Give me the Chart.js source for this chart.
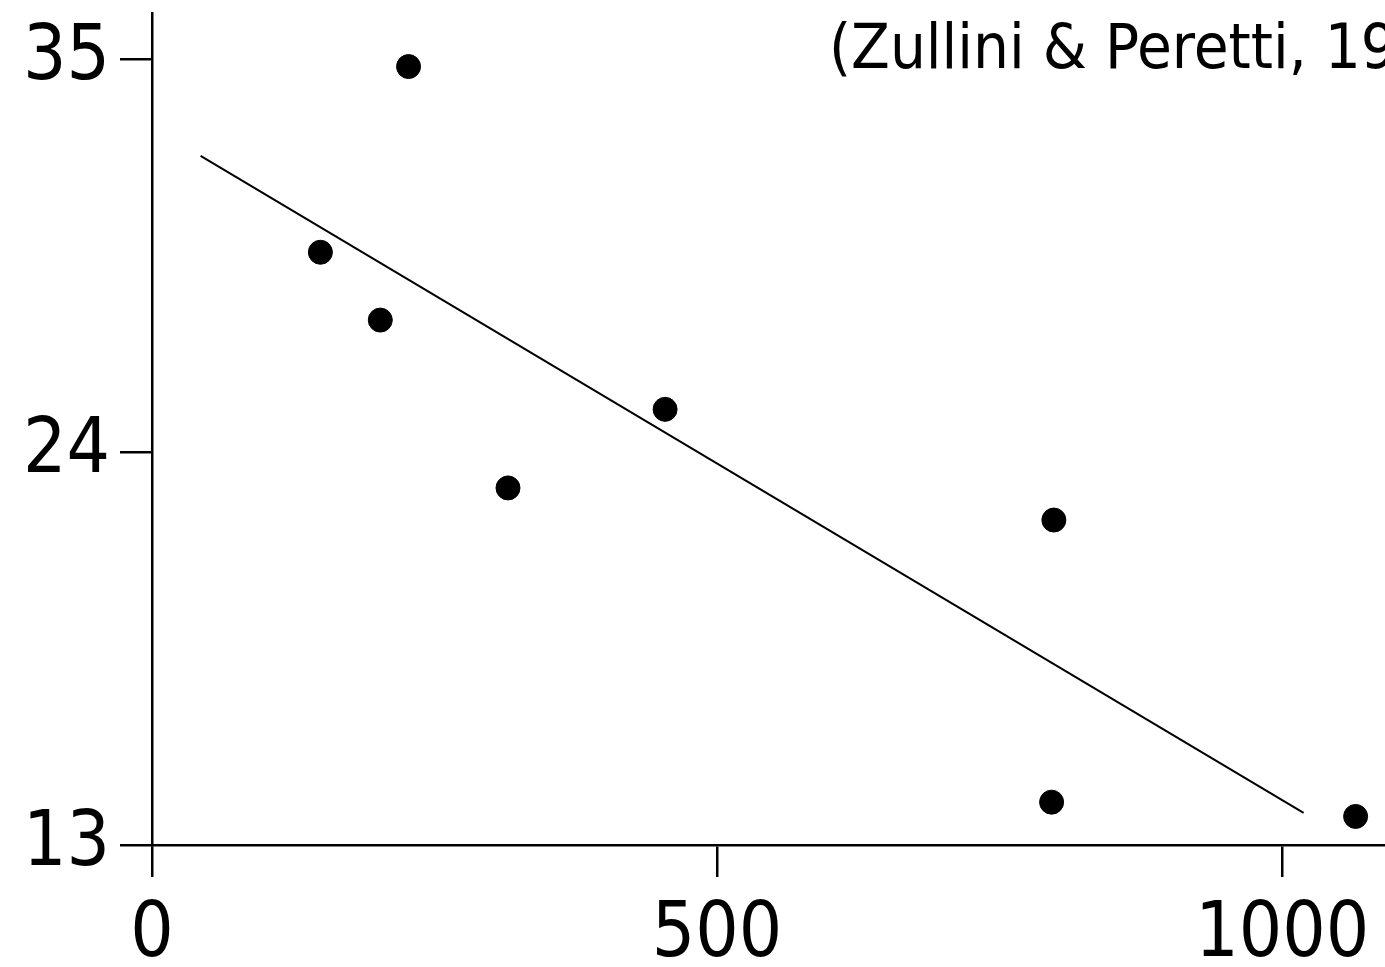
<!DOCTYPE html>
<html>
<head>
<meta charset="utf-8">
<script src="https://cdn.jsdelivr.net/npm/chart.js@4"></script>
<style>
  html, body { margin: 0; padding: 0; background: #fff; }
  #wrap { width: 1385px; height: 967px; }
</style>
</head>
<body>
<div id="wrap"><canvas id="scatterChart"></canvas></div>
<script>
const sourceNote = '(Zullini & Peretti, 19';

const pointX = [227, 149, 202, 454, 315, 798, 796, 1065];
const pointY = [34.8, 29.6, 27.7, 25.2, 23.0, 22.1, 14.2, 13.8];

const trendX = [43, 1019];
const trendY = [32.3, 13.9];

const xTicks = [0, 500, 1000];
const yTicks = [13, 24, 35];

const fontFamily = "'DejaVu Sans Condensed', 'DejaVu Sans', sans-serif";

// source note in the top right, cut by the right edge like the original
const notePlugin = {
    id: 'note',
    afterDraw(chart) {
        const c = chart.ctx;
        c.save();
        c.fillStyle = '#000';
        c.font = '63px ' + fontFamily;
        c.textBaseline = 'alphabetic';
        c.textAlign = 'left';
        c.fillText(sourceNote, 829, 68);
        c.restore();
    }
};

const ctx = document.getElementById('scatterChart').getContext('2d');

new Chart(ctx, {
    type: 'scatter',
    data: {
        datasets: [{
            data: pointX.map((x, i) => ({ x: x, y: pointY[i] })),
            backgroundColor: '#000',
            borderColor: '#000',
            pointRadius: 12,
            pointHoverRadius: 12,
            clip: false
        }, {
            type: 'line',
            data: trendX.map((x, i) => ({ x: x, y: trendY[i] })),
            borderColor: '#000',
            borderWidth: 2,
            pointRadius: 0,
            fill: false
        }]
    },
    options: {
        responsive: true,
        maintainAspectRatio: false,
        animation: false,
        layout: { autoPadding: false, padding: { top: 13, right: 0, left: 0, bottom: 0 } },
        plugins: {
            legend: { display: false },
            tooltip: { enabled: false }
        },
        scales: {
            x: {
                type: 'linear',
                min: 0,
                max: 1091,
                afterBuildTicks: (scale) => { scale.ticks = xTicks.map(v => ({ value: v })); },
                afterFit: (scale) => {
                    scale.height = 122;
                    scale.paddingLeft = 0;
                    scale.paddingRight = 0;
                },
                grid: { drawOnChartArea: false, tickLength: 32, color: '#000', lineWidth: 2.5 },
                border: { display: true, color: '#000', width: 2.5 },
                ticks: {
                    color: '#000',
                    padding: 14,
                    maxRotation: 0,
                    callback: (v) => String(v),
                    font: { family: fontFamily, size: 76 }
                }
            },
            y: {
                type: 'linear',
                min: 13,
                max: 36.3,
                afterBuildTicks: (scale) => { scale.ticks = yTicks.map(v => ({ value: v })); },
                afterFit: (scale) => {
                    scale.width = 152;
                    scale.paddingTop = 0;
                    scale.paddingBottom = 0;
                },
                grid: { drawOnChartArea: false, tickLength: 32, color: '#000', lineWidth: 2.5 },
                border: { display: true, color: '#000', width: 2.5 },
                ticks: {
                    color: '#000',
                    padding: 10,
                    callback: (v) => String(v),
                    font: { family: fontFamily, size: 76 }
                }
            }
        }
    },
    plugins: [notePlugin]
});
</script>
</body>
</html>
